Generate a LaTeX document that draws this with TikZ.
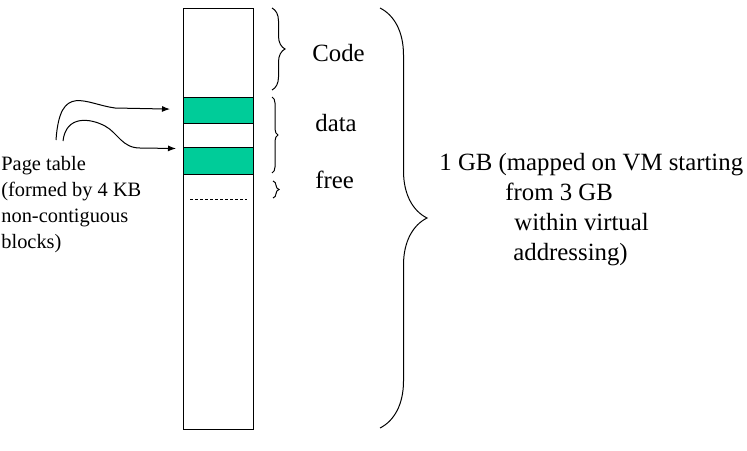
\documentclass[tikz,border=0pt]{standalone}
\usepackage{fontspec}
\setmainfont{Liberation Serif}
\usepackage{xcolor}
\usepackage{tikz}
\usetikzlibrary{arrows.meta,calc,decorations.pathreplacing}
\definecolor{pagegreen}{HTML}{00CC99}

\begin{document}
\begin{tikzpicture}[x=0.5pt,y=-0.5pt,
  brc/.style={decorate,decoration={brace,amplitude=#1},line width=0.5pt},
  blk/.style={draw,line width=0.6pt,minimum width=35pt,inner sep=0pt,anchor=north west},
  lbl/.style={font=\fontsize{12.4}{15}\selectfont,anchor=base west,inner sep=0pt},
  ptlbl/.style={font=\fontsize{10.2}{12.5}\selectfont,anchor=base west,inner sep=0pt},
  ptr/.style={-{Latex[length=4pt,width=3pt]},line width=0.5pt}]
  \useasboundingbox (0,0) rectangle (747,450);
  % memory column and page blocks
  \node[blk,minimum height=210.5pt] (mem) at (183,8) {};
  \node[blk,fill=pagegreen,minimum height=13pt] (pgA) at (183,97) {};
  \node[blk,fill=pagegreen,minimum height=13.5pt] (pgB) at (183,147) {};
  \draw[line width=0.5pt,dash pattern=on 1.5pt off 1pt] (190,199) -- (247,199);
  % braces
  \draw[brc=6.5pt] (272,8) -- (272,90);
  \draw[brc=3pt] (272,97) -- (272,173);
  \draw[brc=3pt] (273,181) -- (273,198);
  \draw[brc=23.5pt] (380,8) -- (380,428);
  \node[lbl] (code) at (312,61) {Code};
  \node[lbl] (data) at (315,131) {data};
  \node[lbl] (free) at (315,188) {free};
  \foreach \xx/\yy/\txt [count=\i] in {439/170/{1 GB (mapped on VM starting},505/200/{from 3 GB},514/230/{within virtual},513/260/{addressing)}}
    \node[lbl] (gb\i) at (\xx,\yy) {\txt};
  % page table
  \foreach \yy/\txt [count=\i] in {170/{Page table},196/{(formed by 4 KB},222/{non-contiguous},248/{blocks)}}
    \node[ptlbl] (pt\i) at (1,\yy) {\txt};
  \coordinate (srcA) at (56,140);
  \coordinate (srcB) at (63,141);
  \draw[ptr] (srcA) .. controls (60,82) and (85,104) .. (115,108) -- ($(pgA.west)+(-13,-1.5)$);
  \draw[ptr] (srcB) .. controls (66,115) and (90,118) .. (105,126) .. controls (118,133) and (122,148) .. (140,148) -- ($(pgB.north west)+(-7,1.5)$);
\end{tikzpicture}
\end{document}
